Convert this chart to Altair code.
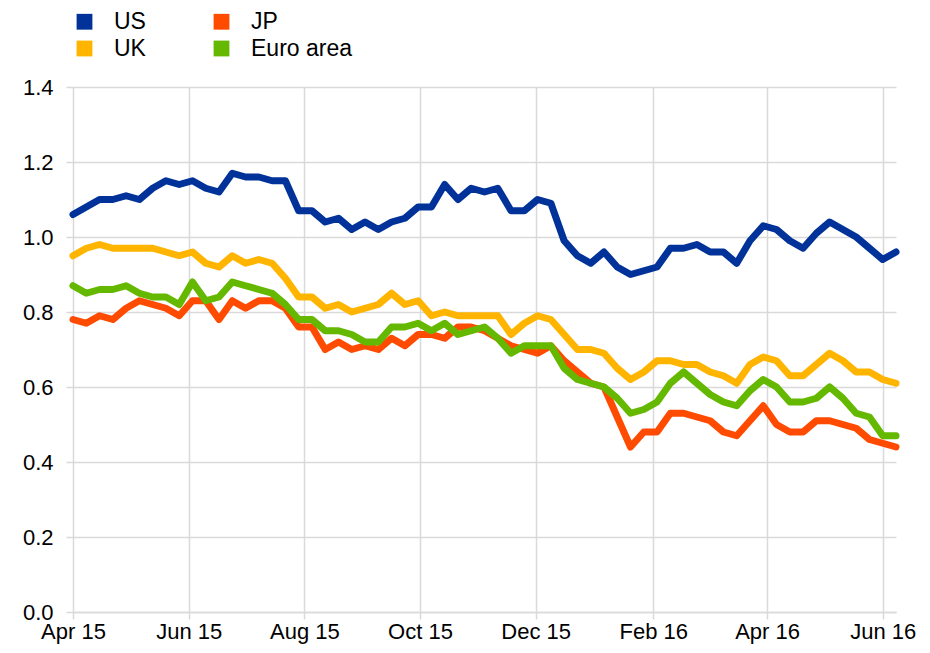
import altair as alt
import pandas as pd

# Weekly observations (Wednesdays) from 1 April 2015
weeks = pd.date_range("2015-04-01", periods=63, freq="7D").strftime("%Y-%m-%dT00:00:00").tolist()

us = [1.06, 1.08, 1.10, 1.10, 1.11, 1.10, 1.13, 1.15, 1.14, 1.15, 1.13, 1.12, 1.17, 1.16, 1.16, 1.15,
      1.15, 1.07, 1.07, 1.04, 1.05, 1.02, 1.04, 1.02, 1.04, 1.05, 1.08, 1.08, 1.14, 1.10, 1.13, 1.12,
      1.13, 1.07, 1.07, 1.10, 1.09, 0.99, 0.95, 0.93, 0.96, 0.92, 0.90, 0.91, 0.92, 0.97, 0.97, 0.98,
      0.96, 0.96, 0.93, 0.99, 1.03, 1.02, 0.99, 0.97, 1.01, 1.04, 1.02, 1.00, 0.97, 0.94, 0.96]

uk = [0.95, 0.97, 0.98, 0.97, 0.97, 0.97, 0.97, 0.96, 0.95, 0.96, 0.93, 0.92, 0.95, 0.93, 0.94, 0.93,
      0.89, 0.84, 0.84, 0.81, 0.82, 0.80, 0.81, 0.82, 0.85, 0.82, 0.83, 0.79, 0.80, 0.79, 0.79, 0.79,
      0.79, 0.74, 0.77, 0.79, 0.78, 0.74, 0.70, 0.70, 0.69, 0.65, 0.62, 0.64, 0.67, 0.67, 0.66, 0.66,
      0.64, 0.63, 0.61, 0.66, 0.68, 0.67, 0.63, 0.63, 0.66, 0.69, 0.67, 0.64, 0.64, 0.62, 0.61]

jp = [0.78, 0.77, 0.79, 0.78, 0.81, 0.83, 0.82, 0.81, 0.79, 0.83, 0.83, 0.78, 0.83, 0.81, 0.83, 0.83,
      0.81, 0.76, 0.76, 0.70, 0.72, 0.70, 0.71, 0.70, 0.73, 0.71, 0.74, 0.74, 0.73, 0.76, 0.76, 0.75,
      0.73, 0.71, 0.70, 0.69, 0.71, 0.67, 0.64, 0.61, 0.60, 0.52, 0.44, 0.48, 0.48, 0.53, 0.53, 0.52,
      0.51, 0.48, 0.47, 0.51, 0.55, 0.50, 0.48, 0.48, 0.51, 0.51, 0.50, 0.49, 0.46, 0.45, 0.44]

euro_area = [0.87, 0.85, 0.86, 0.86, 0.87, 0.85, 0.84, 0.84, 0.82, 0.88, 0.83, 0.84, 0.88, 0.87, 0.86, 0.85,
             0.82, 0.78, 0.78, 0.75, 0.75, 0.74, 0.72, 0.72, 0.76, 0.76, 0.77, 0.75, 0.77, 0.74, 0.75, 0.76,
             0.73, 0.69, 0.71, 0.71, 0.71, 0.65, 0.62, 0.61, 0.60, 0.57, 0.53, 0.54, 0.56, 0.61, 0.64, 0.61,
             0.58, 0.56, 0.55, 0.59, 0.62, 0.60, 0.56, 0.56, 0.57, 0.60, 0.57, 0.53, 0.52, 0.47, 0.47]

series_names = ["US", "UK", "JP", "Euro area"]          # drawing order and legend order
palette = {"US": "#003299", "UK": "#FFB400", "JP": "#FF4B00", "Euro area": "#65B800"}
y_ticks = [0.0, 0.2, 0.4, 0.6, 0.8, 1.0, 1.2, 1.4]
x_ticks = [(2015, 4), (2015, 6), (2015, 8), (2015, 10), (2015, 12),
           (2016, 2), (2016, 4), (2016, 6)]

rows = []
for name, vals in zip(series_names, [us, uk, jp, euro_area]):
    for d, v in zip(weeks, vals):
        rows.append({"date": d, "series": name, "value": v})
df = pd.DataFrame(rows)

FONT = "Liberation Sans"
GRID = "#d9d9d9"

x_enc = alt.X(
    "date:T",
    title=None,
    scale=alt.Scale(domain=[alt.DateTime(year=2015, month=4, date=1),
                            alt.DateTime(year=2016, month=6, date=8)]),
    axis=alt.Axis(
        values=[alt.DateTime(year=y, month=m, date=1) for y, m in x_ticks],
        format="%b %y", labelFlush=False, labelOverlap=False,
        tickSize=7, labelPadding=2, grid=True,
    ),
)
y_enc = alt.Y(
    "value:Q",
    title=None,
    scale=alt.Scale(domain=[0, 1.4], nice=False, zero=True),
    axis=alt.Axis(values=y_ticks, format=".1f", tickSize=7, labelPadding=13,
                  domain=False, grid=True),
)
color_scale = alt.Scale(domain=series_names, range=[palette[n] for n in series_names])

# invisible filled squares that only provide the square legend symbols
legend_layer = alt.Chart(df).mark_square(size=0, filled=True, opacity=1, strokeWidth=0).encode(
    x=x_enc, y=y_enc,
    color=alt.Color(
        "series:N", scale=color_scale,
        legend=alt.Legend(
            title=None, orient="none", legendX=0, legendY=-77, columns=2,
            symbolType="square", symbolSize=250, symbolStrokeWidth=0,
            labelFontSize=23, labelFont=FONT, labelColor="#000000",
            labelOffset=18, columnPadding=64, rowPadding=3, padding=0,
        ),
    ),
)

line_base = alt.Chart(df).mark_line(strokeWidth=7, strokeCap="round", strokeJoin="round").encode(
    x=x_enc, y=y_enc, color=alt.Color("series:N", scale=color_scale, legend=None)
)
layers = [line_base.transform_filter(alt.datum.series == s) for s in series_names]

chart = alt.layer(legend_layer, *layers).resolve_legend(color="independent").properties(
    width=823,
    height=525,
    autosize=alt.AutoSizeParams(type="none"),
    padding={"left": 65, "top": 79, "right": 20, "bottom": 32},
).configure_view(stroke=None).configure_axis(
    labelFont=FONT, labelFontSize=22, labelColor="#000000",
    gridColor=GRID, gridWidth=1.5, tickColor=GRID, tickWidth=1.5,
    domainColor=GRID, domainWidth=1.5,
)

chart.save("out.html", embed_options={"renderer": "svg", "actions": False})
